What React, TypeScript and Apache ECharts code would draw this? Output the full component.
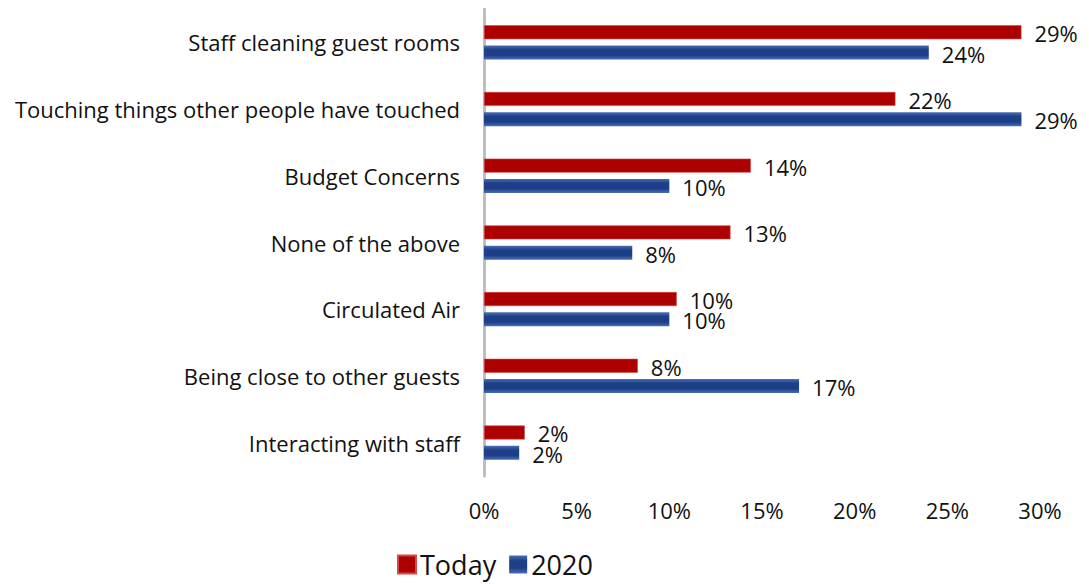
import React, { useEffect, useRef } from "react";
import * as echarts from "echarts";

const categories = [
  "Staff cleaning guest rooms",
  "Touching things other people have touched",
  "Budget Concerns",
  "None of the above",
  "Circulated Air",
  "Being close to other guests",
  "Interacting with staff",
];
const todayValues = [29.0, 22.2, 14.4, 13.3, 10.4, 8.3, 2.2];
const values2020 = [24.0, 29.0, 10.0, 8.0, 10.0, 17.0, 1.9];
const xTicks = [0, 5, 10, 15, 20, 25, 30];

const FONT = "'Open Sans', 'Noto Sans', sans-serif";

export default function App() {
  const ref = useRef<HTMLDivElement>(null);
  useEffect(() => {
    if (!ref.current) return;
    const chart = echarts.init(ref.current, null, { renderer: "svg" });
    const cats = [...categories].reverse();
    const t = [...todayValues].reverse();
    const b = [...values2020].reverse();
    const mkLabel = (dy: number) => ({
      show: true,
      position: "right" as const,
      distance: 13,
      offset: [0, dy],
      color: "#111",
      fontSize: 22,
      fontFamily: FONT,
      formatter: (p: any) => Math.round(p.value) + "%",
    });
    chart.setOption({
      animation: false,
      grid: { left: 476, right: 41, top: 1, bottom: 108, containLabel: false },
      legend: {
        top: 538,
        left: 384,
        itemWidth: 18,
        itemHeight: 18,
        itemGap: 13,
        icon: "rect",
        textStyle: { fontSize: 27, color: "#111", fontFamily: FONT, padding: [0, 0, 0, -1] },
        data: ["Today", "2020"],
      },
      xAxis: {
        type: "value",
        min: xTicks[0],
        max: xTicks[xTicks.length - 1],
        interval: 5,
        axisLine: { show: false },
        axisTick: { show: false },
        splitLine: { show: false },
        axisLabel: {
          formatter: (v: number) => v + "%",
          fontSize: 22,
          color: "#111",
          fontFamily: FONT,
          margin: 23,
        },
      },
      yAxis: {
        type: "category",
        data: cats,
        axisLine: { show: true, lineStyle: { color: "#bfbfbf", width: 3 } },
        axisTick: { show: false },
        axisLabel: { fontSize: 22, color: "#111", fontFamily: FONT, margin: 24 },
      },
      series: [
        {
          name: "Today",
          type: "bar",
          data: t,
          barWidth: 14,
          barGap: "45%",
          itemStyle: { color: "#ad0000", borderColor: "#d24a4a", borderWidth: 0.6 },
          label: mkLabel(1),
        },
        {
          name: "2020",
          type: "bar",
          data: b,
          barWidth: 14,
          barGap: "45%",
          itemStyle: {
            color: new echarts.graphic.LinearGradient(0, 0, 0, 1, [
              { offset: 0, color: "#4a6fb3" },
              { offset: 0.3, color: "#1d3f88" },
              { offset: 0.7, color: "#1d3f88" },
              { offset: 1, color: "#4a6fb3" },
            ]),
          },
          label: mkLabel(1),
        },
      ],
    });
    return () => chart.dispose();
  }, []);
  return <div ref={ref} style={{ width: 1073, height: 576 }} />;
}
